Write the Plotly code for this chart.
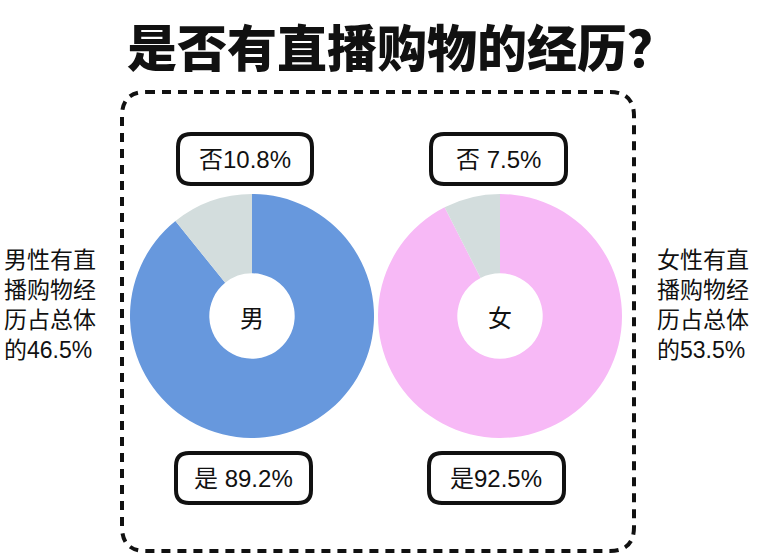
import plotly.graph_objects as go

W, H = 762, 560

title = "是否有直播购物的经历？"
genders = ["男", "女"]
answers = ["是", "否"]
male_vals = [89.2, 10.8]
female_vals = [92.5, 7.5]
male_labels = ["是 89.2%", "否10.8%"]
female_labels = ["是92.5%", "否 7.5%"]
side_notes = ["男性有直<br>播购物经<br>历占总体<br>的46.5%", "女性有直<br>播购物经<br>历占总体<br>的53.5%"]

male_colors = ["#6798dd", "#d3dddd"]
female_colors = ["#f7b9f6", "#d3dddd"]

FONT = "Noto Sans CJK SC"
TXT_FONT = "Liberation Sans, Noto Sans CJK SC"


def px(x):
    return x / W


def py(y):
    return 1 - y / H


def rounded_path(x0, y0, x1, y1, r):
    # pixel box -> paper path with rounded corners
    pts = [
        f"M {px(x0 + r)} {py(y0)}",
        f"L {px(x1 - r)} {py(y0)}",
        f"Q {px(x1)} {py(y0)} {px(x1)} {py(y0 + r)}",
        f"L {px(x1)} {py(y1 - r)}",
        f"Q {px(x1)} {py(y1)} {px(x1 - r)} {py(y1)}",
        f"L {px(x0 + r)} {py(y1)}",
        f"Q {px(x0)} {py(y1)} {px(x0)} {py(y1 - r)}",
        f"L {px(x0)} {py(y0 + r)}",
        f"Q {px(x0)} {py(y0)} {px(x0 + r)} {py(y0)}",
        "Z",
    ]
    return " ".join(pts)


def note(x, y, text, size, family=TXT_FONT, xanchor="center", align="center", weight="normal"):
    fig.add_annotation(x=px(x), y=py(y), xref="paper", yref="paper", text=text, showarrow=False,
                       xanchor=xanchor, yanchor="middle", align=align,
                       font=dict(family=family, size=size, color="#111111", weight=weight))


fig = go.Figure()

centers = [(252, 316), (500, 316)]
radius = 122
for (cx, cy), vals, cols, g in zip(centers, [male_vals, female_vals], [male_colors, female_colors], genders):
    fig.add_trace(go.Pie(
        labels=answers, values=vals, hole=0.35, sort=False, direction="clockwise",
        rotation=0, marker=dict(colors=cols, line=dict(width=0)),
        textinfo="none", hoverinfo="label+percent", showlegend=False,
        domain=dict(x=[px(cx - radius), px(cx + radius)], y=[py(cy + radius), py(cy - radius)]),
    ))
    note(cx, cy, g, 24, family=FONT)

shapes = [dict(type="path", xref="paper", yref="paper", path=rounded_path(122, 92, 634, 551, 24),
               line=dict(color="#111111", width=4, dash="9px,7px"))]

boxes = [
    (178, 134, 312, 184, male_labels[1]),
    (431, 134, 566, 184, female_labels[1]),
    (176, 453, 311, 503, male_labels[0]),
    (429, 453, 564, 503, female_labels[0]),
]
for x0, y0, x1, y1, txt in boxes:
    shapes.append(dict(type="path", xref="paper", yref="paper", path=rounded_path(x0, y0, x1, y1, 13),
                       line=dict(color="#111111", width=4), fillcolor="white"))
    note((x0 + x1) / 2, (y0 + y1) / 2, txt, 24)

note(2, 305, side_notes[0], 23, xanchor="left", align="left")
note(655, 305, side_notes[1], 23, xanchor="left", align="left")

note(402, 45, title, 50, family=FONT, weight=900)

fig.update_layout(
    width=W, height=H, margin=dict(l=0, r=0, t=0, b=0),
    paper_bgcolor="white", plot_bgcolor="white", shapes=shapes,
)

# page body has a default 8px margin; drop it so the figure fills the window
fig.write_html("out.html", config={"displayModeBar": False},
               post_script="document.body.style.margin='0';")
